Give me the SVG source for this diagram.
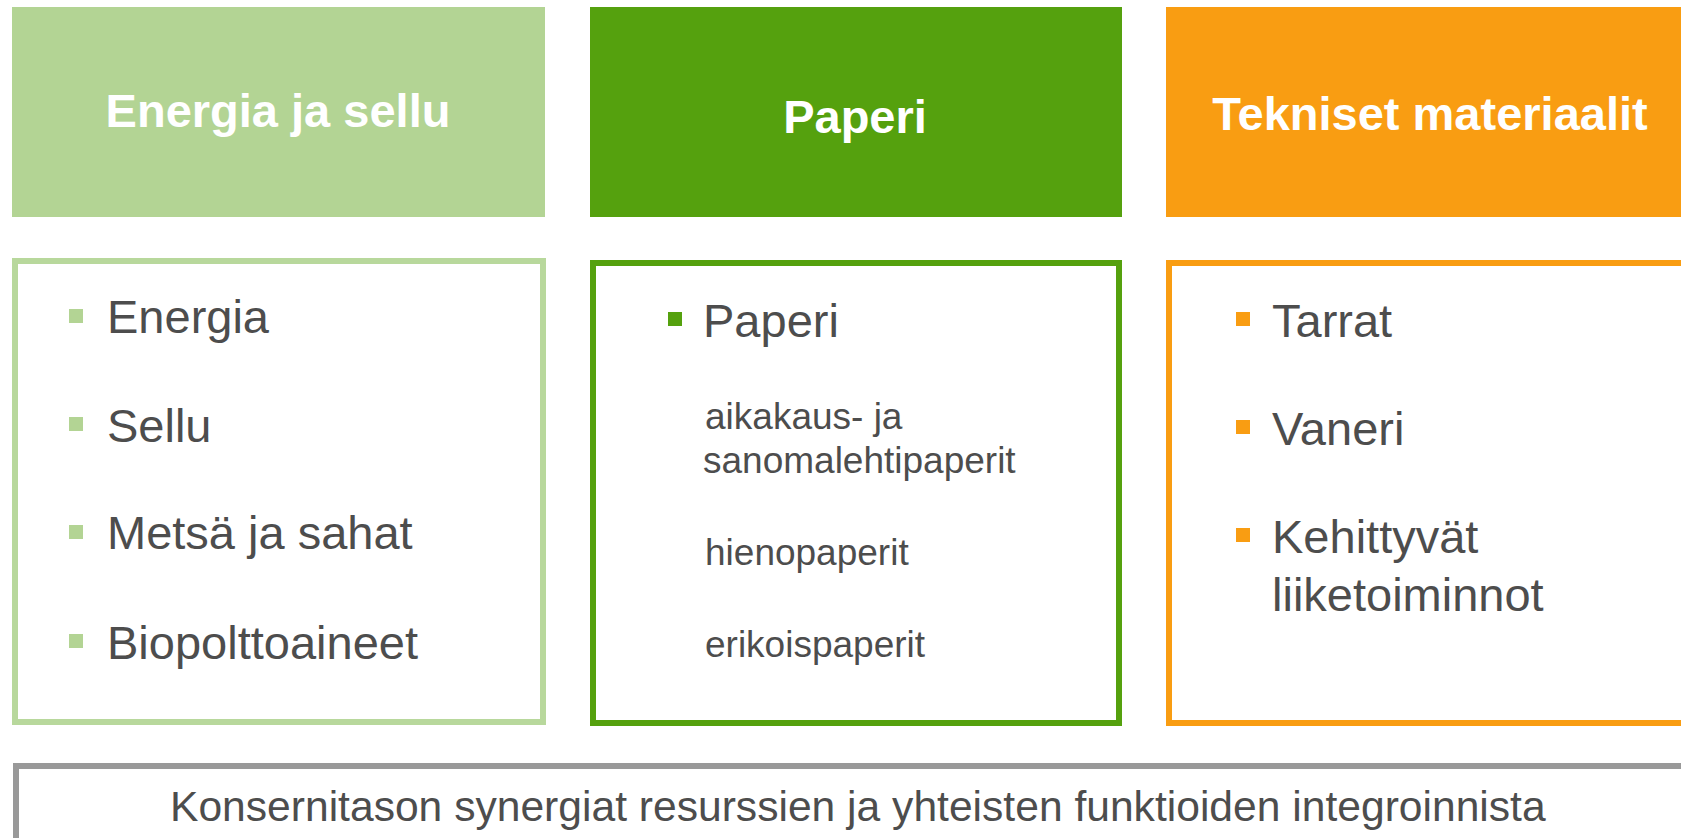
<svg xmlns="http://www.w3.org/2000/svg" width="1681" height="838" viewBox="0 0 1681 838">
<style>
.hdr{font-family:"Liberation Sans",Arial,sans-serif;font-weight:bold;font-size:47px;fill:#ffffff;text-anchor:middle}
.item{font-family:"Liberation Sans",Arial,sans-serif;font-size:47px;fill:#4d4d4d}
.sub{font-family:"Liberation Sans",Arial,sans-serif;font-size:37px;fill:#4d4d4d}
.foot{font-family:"Liberation Sans",Arial,sans-serif;font-size:42.6px;fill:#4d4d4d}
.panel{fill:#ffffff;stroke-width:6}
</style>
<rect width="1681" height="838" fill="#ffffff"/>
<g id="header-energia">
<rect x="12" y="7" width="533" height="210" fill="#b3d494"/>
<text class="hdr" x="278" y="127">Energia ja sellu</text>
</g>
<g id="header-paperi">
<rect x="590" y="7" width="532" height="210" fill="#55a10e"/>
<text class="hdr" x="855" y="133">Paperi</text>
</g>
<g id="header-tekniset">
<rect x="1166" y="7" width="540" height="210" fill="#f99d12"/>
<text class="hdr" x="1430" y="130">Tekniset materiaalit</text>
</g>
<g id="panel-energia">
<rect class="panel" x="15" y="261" width="528" height="461" stroke="#b8d89c"/>
<rect x="69" y="309" width="14" height="14" fill="#b3d494"/>
<text class="item" x="107" y="333">Energia</text>
<rect x="69" y="417" width="14" height="14" fill="#b3d494"/>
<text class="item" x="107" y="442">Sellu</text>
<rect x="69" y="525" width="14" height="14" fill="#b3d494"/>
<text class="item" x="107" y="549">Metsä ja sahat</text>
<rect x="69" y="634" width="14" height="14" fill="#b3d494"/>
<text class="item" x="107" y="659">Biopolttoaineet</text>
</g>
<g id="panel-paperi">
<rect class="panel" x="593" y="263" width="526" height="460" stroke="#55a10e"/>
<rect x="668" y="312" width="14" height="14" fill="#55a10e"/>
<text class="item" x="703" y="337">Paperi</text>
<text class="sub" x="705" y="429">aikakaus- ja</text>
<text class="sub" x="703" y="473">sanomalehtipaperit</text>
<text class="sub" x="705" y="565">hienopaperit</text>
<text class="sub" x="705" y="657">erikoispaperit</text>
</g>
<g id="panel-tekniset">
<rect class="panel" x="1169" y="263" width="600" height="460" stroke="#f99d12"/>
<rect x="1236" y="312" width="14" height="14" fill="#f99d12"/>
<text class="item" x="1272" y="337">Tarrat</text>
<rect x="1236" y="420" width="14" height="14" fill="#f99d12"/>
<text class="item" x="1272" y="445">Vaneri</text>
<rect x="1236" y="528" width="14" height="14" fill="#f99d12"/>
<text class="item" x="1272" y="553">Kehittyvät</text>
<text class="item" x="1272" y="611">liiketoiminnot</text>
</g>
<g id="footer-synergiat">
<rect class="panel" x="16" y="766" width="1700" height="200" stroke="#999999"/>
<text class="foot" x="170" y="821">Konsernitason synergiat resurssien ja yhteisten funktioiden integroinnista</text>
</g>
<g id="connectors"></g>
</svg>
